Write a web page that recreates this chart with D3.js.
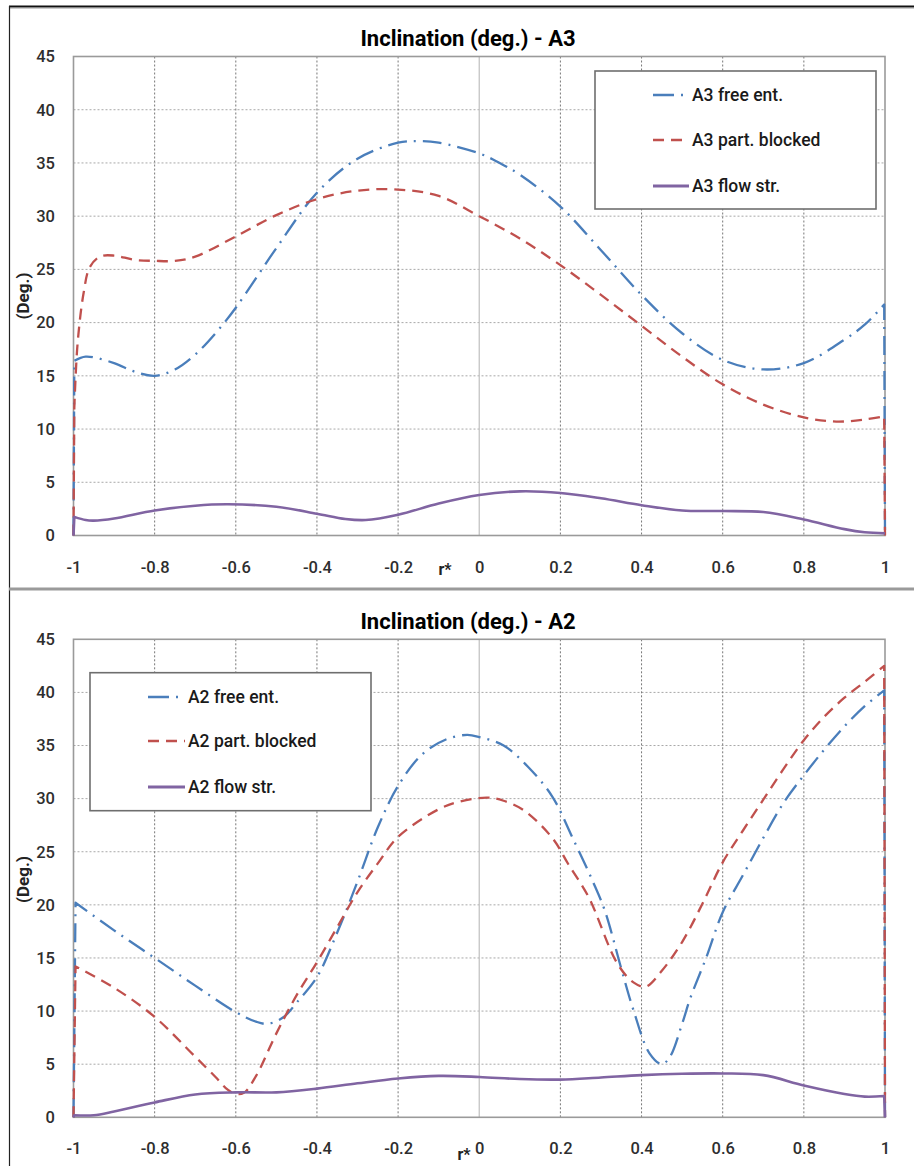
<!DOCTYPE html>
<html>
<head>
<meta charset="utf-8">
<script src="https://cdn.jsdelivr.net/npm/d3@7/dist/d3.min.js"></script>
<style>
  html, body { margin: 0; padding: 0; background: #fff; }
  svg { display: block; font-family: Roboto, "Open Sans", sans-serif; }
</style>
</head>
<body>
<svg id="chart" width="914" height="1166"></svg>
<script>
// Axis ticks
const xTicks = [-1, -0.8, -0.6, -0.4, -0.2, 0, 0.2, 0.4, 0.6, 0.8, 1];
const yTicks = [0, 5, 10, 15, 20, 25, 30, 35, 40, 45];

// Series: [r*, inclination in degrees]
const a3Free = [[-1,0],[-0.998,16.4],[-0.97,16.8],[-0.9,16.2],[-0.85,15.4],[-0.8,15.0],[-0.75,15.6],[-0.7,17.0],[-0.65,19.0],[-0.6,21.4],[-0.5,27.0],[-0.4,32.2],[-0.3,35.4],[-0.2,36.9],[-0.15,37.05],[-0.1,36.9],[0,35.9],[0.05,35.0],[0.1,33.9],[0.2,30.9],[0.3,26.8],[0.4,22.6],[0.5,19.0],[0.6,16.5],[0.7,15.6],[0.8,16.2],[0.9,18.4],[0.95,19.8],[0.998,21.7],[1,0]];
const a3Blocked = [[-1,0],[-0.998,12],[-0.99,18],[-0.975,22.8],[-0.96,25.2],[-0.935,26.2],[-0.9,26.3],[-0.85,25.9],[-0.8,25.8],[-0.75,25.8],[-0.7,26.2],[-0.6,28.1],[-0.5,30.1],[-0.4,31.6],[-0.3,32.4],[-0.2,32.5],[-0.1,31.9],[0,30.0],[0.1,27.9],[0.2,25.4],[0.3,22.6],[0.4,19.7],[0.5,16.8],[0.6,14.2],[0.7,12.3],[0.8,11.1],[0.88,10.7],[0.95,10.9],[0.998,11.2],[1,0]];
const a3Flow = [[-1,0],[-0.998,1.75],[-0.97,1.45],[-0.95,1.4],[-0.9,1.6],[-0.8,2.35],[-0.7,2.8],[-0.62,2.93],[-0.5,2.7],[-0.4,2.05],[-0.33,1.55],[-0.28,1.45],[-0.2,1.95],[-0.1,3.0],[0,3.8],[0.1,4.15],[0.2,4.0],[0.3,3.5],[0.4,2.85],[0.5,2.35],[0.6,2.3],[0.7,2.2],[0.8,1.5],[0.9,0.6],[0.95,0.3],[1,0.2]];

const a2Free = [[-1,0],[-0.995,20.2],[-0.9,17.6],[-0.8,15.0],[-0.7,12.4],[-0.6,9.9],[-0.55,9.0],[-0.52,8.8],[-0.48,9.5],[-0.45,10.8],[-0.4,13.2],[-0.35,17.4],[-0.3,22.2],[-0.25,27.3],[-0.2,31.2],[-0.14,34.2],[-0.08,35.6],[-0.03,36.0],[0,35.8],[0.06,35.0],[0.12,33.0],[0.18,30.2],[0.23,26.3],[0.28,22.2],[0.31,19.4],[0.35,14.0],[0.38,10.1],[0.42,6.0],[0.45,5.0],[0.47,5.7],[0.5,8.8],[0.52,11.2],[0.56,15.1],[0.6,19.3],[0.65,22.8],[0.7,26.3],[0.75,29.6],[0.8,32.2],[0.85,34.6],[0.9,36.8],[0.95,38.7],[0.998,40.2],[1,0]];
const a2Blocked = [[-1,0],[-0.995,14.2],[-0.9,12.2],[-0.8,9.45],[-0.7,5.7],[-0.65,3.8],[-0.62,2.6],[-0.6,2.2],[-0.58,2.3],[-0.55,3.9],[-0.5,7.9],[-0.45,11.5],[-0.4,14.6],[-0.35,17.9],[-0.3,21.2],[-0.25,23.9],[-0.2,26.4],[-0.1,29.0],[-0.05,29.7],[0.02,30.1],[0.06,29.8],[0.11,28.9],[0.18,26.3],[0.22,23.8],[0.27,20.7],[0.34,14.5],[0.38,12.7],[0.41,12.3],[0.45,13.8],[0.5,16.5],[0.55,20.1],[0.6,24.0],[0.65,27.0],[0.7,29.9],[0.75,32.8],[0.8,35.5],[0.85,37.7],[0.9,39.5],[0.95,41.0],[0.998,42.5],[1,0]];
const a2Flow = [[-1,0],[-0.998,0.2],[-0.95,0.2],[-0.9,0.55],[-0.8,1.4],[-0.7,2.15],[-0.6,2.35],[-0.5,2.35],[-0.4,2.7],[-0.3,3.2],[-0.2,3.65],[-0.1,3.9],[0,3.8],[0.1,3.6],[0.2,3.55],[0.3,3.75],[0.4,3.97],[0.5,4.1],[0.6,4.13],[0.7,3.97],[0.8,3.0],[0.9,2.2],[0.95,1.95],[0.998,2.0],[1,0]];

const seriesNamesA3 = ["A3 free ent.", "A3 part. blocked", "A3 flow str."];
const seriesNamesA2 = ["A2 free ent.", "A2 part. blocked", "A2 flow str."];

// Line styles: free entrance / partially blocked / flow straightener
const styles = [
  { color: "#4a7ebb", dash: "19,7,2,7", width: 2.3 },
  { color: "#c0504d", dash: "11,7", width: 2.3 },
  { color: "#8064a2", dash: null, width: 2.6 }
];

const svg = d3.select("#chart");

// Frame of the figure
svg.append("line").attr("x1", 9).attr("x2", 914).attr("y1", 6.5).attr("y2", 6.5)
  .attr("stroke", "#111").attr("stroke-width", 2);
svg.append("line").attr("x1", 9).attr("x2", 914).attr("y1", 8.5).attr("y2", 8.5)
  .attr("stroke", "#ccc").attr("stroke-width", 1);
svg.append("line").attr("x1", 9.5).attr("x2", 9.5).attr("y1", 6).attr("y2", 1166)
  .attr("stroke", "#222").attr("stroke-width", 1.2);
svg.append("line").attr("x1", 9).attr("x2", 914).attr("y1", 589).attr("y2", 589)
  .attr("stroke", "#9a9a9a").attr("stroke-width", 3);

const panels = [
  {
    title: "Inclination (deg.) - A3", titleY: 38,
    left: 73.5, right: 885, top: 56.5, bottom: 535.5,
    tickY: 573, rLabel: [445, 575], degY: 296,
    legend: { x: 595, y: 71, w: 281, h: 138, lineX0: 653, lineX1: 689, textX: 692, rows: [95, 140, 186] },
    names: seriesNamesA3, data: [a3Free, a3Blocked, a3Flow]
  },
  {
    title: "Inclination (deg.) - A2", titleY: 621,
    left: 73.5, right: 885, top: 639.3, bottom: 1117.3,
    tickY: 1154, rLabel: [464, 1160], degY: 879.5,
    legend: { x: 90, y: 672.7, w: 281, h: 138, lineX0: 148, lineX1: 185, textX: 188, rows: [697, 741, 787] },
    names: seriesNamesA2, data: [a2Free, a2Blocked, a2Flow]
  }
];

panels.forEach(p => {
  const x = d3.scaleLinear().domain([-1, 1]).range([p.left, p.right]);
  const y = d3.scaleLinear().domain([0, 45]).range([p.bottom, p.top]);
  const g = svg.append("g");

  // Title
  g.append("text").attr("x", 468).attr("y", p.titleY).attr("dy", "0.36em")
    .attr("text-anchor", "middle").attr("font-weight", "bold").attr("font-size", 22)
    .attr("fill", "#000").text(p.title);

  // Horizontal grid (dotted)
  g.append("g").selectAll("line").data(yTicks.filter(v => v > 0 && v < 45)).join("line")
    .attr("x1", p.left).attr("x2", p.right)
    .attr("y1", d => y(d)).attr("y2", d => y(d))
    .attr("stroke", "#a8a8a8").attr("stroke-width", 1).attr("stroke-dasharray", "2,2");

  // Vertical grid (dotted, solid at r* = 0)
  g.append("g").selectAll("line").data(xTicks.filter(v => v > -1 && v < 1)).join("line")
    .attr("x1", d => x(d)).attr("x2", d => x(d))
    .attr("y1", p.top).attr("y2", p.bottom)
    .attr("stroke", d => Math.abs(d) < 1e-9 ? "#c4c4c4" : "#777")
    .attr("stroke-width", d => Math.abs(d) < 1e-9 ? 1.3 : 1)
    .attr("stroke-dasharray", d => Math.abs(d) < 1e-9 ? null : "2,2");

  // Plot area border
  g.append("rect").attr("x", p.left).attr("y", p.top)
    .attr("width", p.right - p.left).attr("height", p.bottom - p.top)
    .attr("fill", "none").attr("stroke", "#9a9a9a").attr("stroke-width", 1.6);

  // Axes
  const yAxis = g.append("g").attr("transform", `translate(${p.left},0)`)
    .call(d3.axisLeft(y).tickValues(yTicks).tickSize(0).tickPadding(18.5).tickFormat(d3.format("d")));
  const xAxis = g.append("g").attr("transform", `translate(0,${p.bottom})`)
    .call(d3.axisBottom(x).tickValues(xTicks).tickSize(0)
      .tickFormat(d => String(+d.toFixed(1))));
  [yAxis, xAxis].forEach(a => {
    a.select(".domain").remove();
    a.selectAll("text").attr("font-size", 16.5).attr("fill", "#2e2e2e")
      .attr("font-weight", 500).attr("font-family", "Roboto, sans-serif");
  });
  xAxis.selectAll("text").attr("y", p.tickY - p.bottom).attr("dy", 0);

  // Axis titles
  g.append("text").attr("transform", `translate(23,${p.degY}) rotate(-90)`)
    .attr("text-anchor", "middle").attr("dy", "0.35em")
    .attr("font-weight", "bold").attr("font-size", 17).attr("fill", "#222").text("(Deg.)");
  g.append("text").attr("x", p.rLabel[0]).attr("y", p.rLabel[1])
    .attr("text-anchor", "middle").attr("font-weight", "bold").attr("font-size", 16)
    .attr("fill", "#222").text("r*");

  // Curves: smoothed interior, straight drop to zero at the walls (r* = ±1)
  const smooth = d3.line().x(d => x(d[0])).y(d => y(d[1])).curve(d3.curveCatmullRom.alpha(0.5));
  const isWall = pt => Math.abs(Math.abs(pt[0]) - 1) < 1e-9 && pt[1] === 0;
  const curvePath = d => {
    const head = isWall(d[0]) ? d[0] : null;
    const tail = isWall(d[d.length - 1]) ? d[d.length - 1] : null;
    const inner = d.slice(head ? 1 : 0, tail ? d.length - 1 : d.length);
    let s = smooth(inner);
    if (head) s = `M${x(head[0])},${y(head[1])}L` + s.slice(1);
    if (tail) s += `L${x(tail[0])},${y(tail[1])}`;
    return s;
  };
  g.append("g").selectAll("path").data(p.data).join("path")
    .attr("d", curvePath)
    .attr("fill", "none")
    .attr("stroke", (d, i) => styles[i].color)
    .attr("stroke-width", (d, i) => styles[i].width)
    .attr("stroke-dasharray", (d, i) => styles[i].dash)
    .attr("stroke-linejoin", "round");

  // Legend
  const L = p.legend;
  const lg = g.append("g");
  lg.append("rect").attr("x", L.x).attr("y", L.y).attr("width", L.w).attr("height", L.h)
    .attr("fill", "#fff").attr("stroke", "#6e6e6e").attr("stroke-width", 1.6);
  const items = lg.selectAll("g.item").data(p.names).join("g").attr("class", "item");
  items.append("line")
    .attr("x1", L.lineX0).attr("x2", L.lineX1)
    .attr("y1", (d, i) => L.rows[i]).attr("y2", (d, i) => L.rows[i])
    .attr("stroke", (d, i) => styles[i].color)
    .attr("stroke-width", (d, i) => styles[i].width + 0.4)
    .attr("stroke-dasharray", (d, i) => i === 0 ? "21,7,2,7" : styles[i].dash);
  items.append("text")
    .attr("x", L.textX).attr("y", (d, i) => L.rows[i]).attr("dy", "0.35em")
    .attr("font-size", 17.5).attr("font-weight", 500).attr("fill", "#1a1a1a").text(d => d);
});
</script>
</body>
</html>
